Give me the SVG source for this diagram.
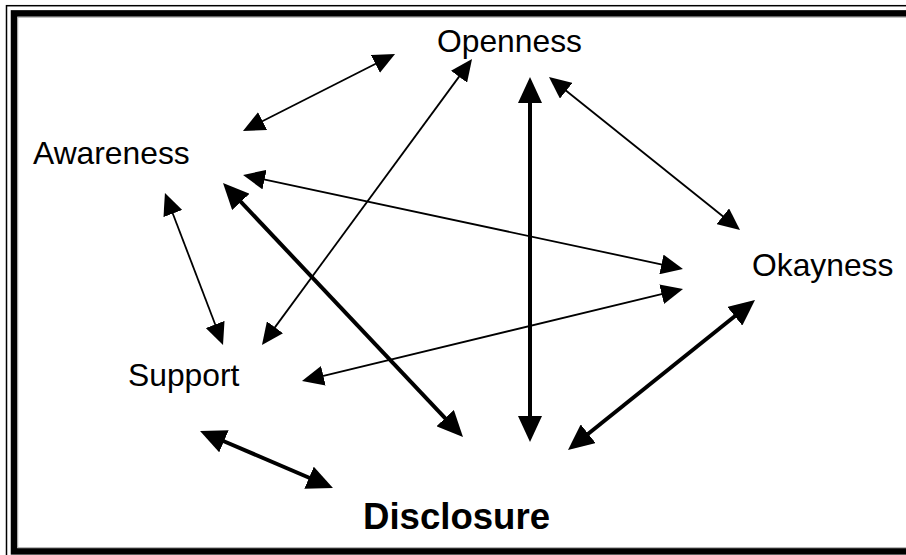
<svg xmlns="http://www.w3.org/2000/svg" width="906" height="555" viewBox="0 0 906 555">
  <style>
    .label { font-family: "Liberation Sans", Arial, sans-serif; font-size: 31.8px; fill: #000; }
    .label-bold { font-family: "Liberation Sans", Arial, sans-serif; font-size: 36.6px; font-weight: bold; fill: #000; }
    .thin { stroke: #000; stroke-width: 1.8; fill: none; marker-start: url(#headThin); marker-end: url(#headThin); }
    .thick { stroke: #000; stroke-width: 4; fill: none; marker-start: url(#headThick); marker-end: url(#headThick); }
  </style>
  <defs>
    <marker id="headThin" markerUnits="userSpaceOnUse" markerWidth="22" markerHeight="20" refX="2" refY="10" orient="auto-start-reverse" viewBox="0 0 22 20">
      <path d="M0,0 L22,10 L0,20 z" fill="#000"/>
    </marker>
    <marker id="headThick" markerUnits="userSpaceOnUse" markerWidth="26" markerHeight="24" refX="2" refY="12" orient="auto-start-reverse" viewBox="0 0 26 24">
      <path d="M0,0 L26,12 L0,24 z" fill="#000"/>
    </marker>
  </defs>

  <rect width="906" height="555" fill="#fff"/>

  <!-- page border: thin outer rule, thick inner rule, faint inner hairline -->
  <g id="border" fill="none">
    <rect x="6.5" y="5.7" width="920" height="570" stroke="#000" stroke-width="1.5"/>
    <rect x="14" y="13.4" width="910" height="538" stroke="#000" stroke-width="6.5"/>
    <rect x="17.8" y="17.2" width="900" height="530.5" stroke="#9a9a9a" stroke-width="0.8"/>
  </g>

  <g id="connectors">
    <line class="thin" x1="260.8" y1="122.0" x2="377.2" y2="63.0"/>
    <line class="thin" x1="460.2" y1="75.1" x2="273.8" y2="328.9"/>
    <line class="thick" x1="530" y1="101" x2="530" y2="418"/>
    <line class="thin" x1="564.6" y1="89.5" x2="724.4" y2="217.5"/>
    <line class="thin" x1="262.6" y1="179.2" x2="663.4" y2="264.8"/>
    <line class="thick" x1="239.5" y1="200.4" x2="446.5" y2="419.6"/>
    <line class="thin" x1="172.1" y1="211.7" x2="215.9" y2="326.3"/>
    <line class="thin" x1="321.4" y1="376.3" x2="663.6" y2="293.7"/>
    <line class="thick" x1="222.1" y1="440.5" x2="310.9" y2="478.5"/>
    <line class="thick" x1="586.7" y1="435.0" x2="736.3" y2="315.0"/>
  </g>

  <g id="openness"><text class="label" x="437" y="52">Openness</text></g>
  <g id="awareness"><text class="label" x="33" y="164">Awareness</text></g>
  <g id="okayness"><text class="label" x="752" y="276">Okayness</text></g>
  <g id="support"><text class="label" x="128" y="386">Support</text></g>
  <g id="disclosure"><text class="label-bold" x="363" y="529">Disclosure</text></g>
</svg>
